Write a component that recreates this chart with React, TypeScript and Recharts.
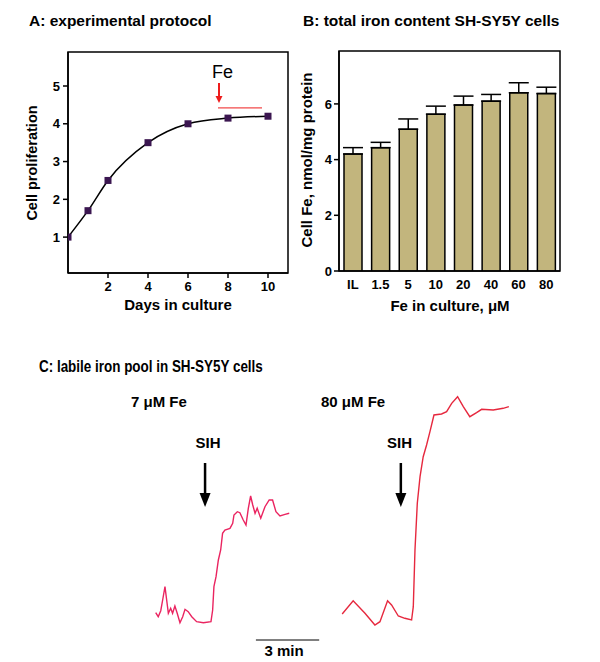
import React from 'react';
import {
  LineChart, Line, BarChart, Bar, XAxis, YAxis, ErrorBar,
  ReferenceArea, ReferenceLine, ReferenceDot,
} from 'recharts';

// ---------- Panel A: experimental protocol ----------
const days = [0, 1, 2, 4, 6, 8, 10];
const proliferation = [1, 1.7, 2.5, 3.5, 4, 4.15, 4.2];
const dayTicks = [2, 4, 6, 8, 10];
const prolifTicks = [1, 2, 3, 4, 5];
const feAddDay = 7.55;
const feArrowTop = 5.08;
const feArrowBase = 4.71;
const feArrowTip = 4.55;
const feExposureStart = 7.5;
const feExposureEnd = 9.7;
const feExposureLevel = 4.42;

// ---------- Panel B: total iron content ----------
const feLevels = ['IL', '1.5', '5', '10', '20', '40', '60', '80'];
const cellFe = [4.2, 4.43, 5.09, 5.63, 5.96, 6.1, 6.4, 6.37];
const cellFeSem = [0.23, 0.19, 0.37, 0.29, 0.32, 0.24, 0.36, 0.23];
const cellFeTicks = [0, 2, 4, 6];

// ---------- Panel C: labile iron pool (time in min, signal a.u.) ----------
const lowFeTime = [7.38, 7.5, 7.62, 7.71, 7.82, 7.9, 7.98, 8.09, 8.18, 8.29, 8.4, 8.53, 8.66, 8.77, 8.92, 9.09, 9.32, 9.64, 10.0, 10.08, 10.14, 10.24, 10.35, 10.46, 10.55, 10.66, 10.9, 11.03, 11.09, 11.25, 11.37, 11.53, 11.66, 11.77, 11.88, 11.98, 12.09, 12.19, 12.36, 12.56, 12.76, 12.92, 13.08, 13.27, 13.51, 13.71];
const lowFeSignal = [4.93, 4.53, 5.13, 6.2, 7.53, 6.2, 4.87, 5.37, 4.87, 5.6, 4.87, 3.93, 4.53, 5.27, 5.03, 4.53, 4.03, 3.93, 4.03, 5.2, 7.53, 8.53, 10.2, 11.2, 12.87, 13.2, 13.37, 13.87, 14.7, 15.03, 14.93, 14.2, 13.7, 15.37, 16.6, 15.7, 14.87, 15.37, 14.37, 15.53, 16.2, 16.2, 15.03, 14.6, 14.77, 14.87];
const highFeTime = [16.22, 16.74, 17.3, 17.77, 18.01, 18.37, 18.56, 18.88, 19.19, 19.51, 19.59, 19.67, 19.78, 19.91, 20.06, 20.22, 20.38, 20.57, 20.93, 21.17, 21.41, 21.69, 21.96, 22.27, 22.59, 22.83, 23.38, 23.85, 24.12];
const highFeSignal = [4.8, 6.13, 4.87, 3.7, 4.03, 6.13, 5.7, 4.6, 4.37, 4.2, 5.53, 11.2, 15.87, 18.53, 20.53, 21.7, 23.03, 24.7, 24.8, 25.03, 25.87, 26.53, 25.53, 24.53, 24.93, 25.27, 25.2, 25.37, 25.53];
const sihTimes = [9.72, 19.0];
const sihArrowTop = 19.9;
const sihArrowBase = 16.9;
const sihArrowTip = 15.5;
const scaleBarStart = 12.13;
const scaleBarMinutes = 3;
const scaleBarLevel = 2.2;

const protocolData = days.map((d, i) => ({ day: d, prolif: proliferation[i] }));
const ironData = feLevels.map((l, i) => ({ level: l, fe: cellFe[i], err: [0, cellFeSem[i]] }));
const lowFeData = lowFeTime.map((t, i) => ({ t, v: lowFeSignal[i] }));
const highFeData = highFeTime.map((t, i) => ({ t, v: highFeSignal[i] }));

const FONT = '"Liberation Sans", Arial, sans-serif';
const tickStyle = { fontSize: 13, fontWeight: 700, fill: '#000', fontFamily: FONT };

const SquareDot = (props: any) => {
  const { cx, cy } = props;
  if (cx == null || cy == null) return null;
  return <rect x={cx - 3.5} y={cy - 3.5} width={7} height={7} fill="#3b1650" />;
};

const makeHead = (w: number, h: number, color: string) => (props: any) => {
  const { cx, cy } = props;
  if (cx == null || cy == null) return <g />;
  return <polygon points={`${cx - w / 2},${cy - h} ${cx + w / 2},${cy - h} ${cx},${cy}`} fill={color} />;
};
const RedHead = makeHead(7, 7, '#ee1c1c');
const BlackHead = makeHead(11, 14, '#000');

type TProps = {
  x: number; y: number; children: React.ReactNode; size?: number; weight?: number;
  anchor?: 'start' | 'middle'; rotate?: boolean; scaleX?: number;
};
const T = ({ x, y, children, size = 15, weight = 700, anchor = 'middle', rotate = false, scaleX = 1 }: TProps) => (
  <div
    style={{
      position: 'absolute', left: x, top: y, fontSize: size, fontWeight: weight, fontFamily: FONT,
      lineHeight: 1, whiteSpace: 'nowrap', color: '#000', transformOrigin: anchor === 'middle' ? '50% 50%' : '0 50%',
      transform: `translate(${anchor === 'middle' ? '-50%' : '0'}, -50%)${rotate ? ' rotate(-90deg)' : ''}${scaleX !== 1 ? ` scaleX(${scaleX})` : ''}`,
    }}
  >
    {children}
  </div>
);

export default function App() {
  return (
    <div style={{ position: 'absolute', left: 0, top: 0, width: 600, height: 662, background: '#fff', overflow: 'hidden', fontFamily: FONT }}>
      {/* Panel A */}
      <div style={{ position: 'absolute', left: 0, top: 0 }}>
        <LineChart width={300} height={330} data={protocolData} margin={{ top: 52, right: 12, bottom: 27, left: 38 }}>
          <XAxis dataKey="day" type="number" domain={[0, 11]} ticks={dayTicks} height={30}
            tick={tickStyle} tickSize={5} tickMargin={4} axisLine={{ stroke: '#000', strokeWidth: 1.5 }}
            tickLine={{ stroke: '#000', strokeWidth: 1.5 }} allowDataOverflow />
          <YAxis type="number" domain={[0.05, 5.9]} ticks={prolifTicks} width={30}
            tick={tickStyle} tickSize={5} tickMargin={3} axisLine={{ stroke: '#000', strokeWidth: 1.5 }}
            tickLine={{ stroke: '#000', strokeWidth: 1.5 }} allowDataOverflow />
          <ReferenceArea y1={0.05} y2={5.9} fill="none" stroke="#000" strokeWidth={1.5} />
          <ReferenceLine segment={[{ x: feExposureStart, y: feExposureLevel }, { x: feExposureEnd, y: feExposureLevel }]}
            stroke="#ee1c1c" strokeWidth={1} />
          <ReferenceLine segment={[{ x: feAddDay, y: feArrowTop }, { x: feAddDay, y: feArrowBase }]}
            stroke="#ee1c1c" strokeWidth={2} />
          <ReferenceDot x={feAddDay} y={feArrowTip} shape={RedHead} />
          <Line type="monotone" dataKey="prolif" stroke="#000" strokeWidth={1.5}
            dot={(p: any) => <SquareDot key={`d${p.index}`} {...p} />} isAnimationActive={false} />
        </LineChart>
      </div>

      {/* Panel B */}
      <div style={{ position: 'absolute', left: 300, top: 0 }}>
        <BarChart width={300} height={330} data={ironData} margin={{ top: 51, right: 40, bottom: 29, left: 14 }}>
          <XAxis dataKey="level" type="category" height={30} interval={0}
            tick={tickStyle} tickSize={6} tickMargin={3} tickLine={false}
            axisLine={{ stroke: '#000', strokeWidth: 1.5 }} />
          <YAxis type="number" domain={[0, 7.9]} ticks={cellFeTicks} width={25}
            tick={tickStyle} tickSize={5} tickMargin={2} axisLine={{ stroke: '#000', strokeWidth: 1.5 }}
            tickLine={{ stroke: '#000', strokeWidth: 1.5 }} allowDataOverflow />
          <ReferenceArea y1={0} y2={7.9} fill="none" stroke="#000" strokeWidth={1.5} />
          <Bar dataKey="fe" barSize={18} fill="#c2b57d" stroke="#000" strokeWidth={1.5} isAnimationActive={false}>
            <ErrorBar dataKey="err" width={10} stroke="#000" strokeWidth={1.5} direction="y" />
          </Bar>
        </BarChart>
      </div>

      {/* Panel C */}
      <div style={{ position: 'absolute', left: 0, top: 380 }}>
        <LineChart width={600} height={282} margin={{ top: 0, right: 0, bottom: 0, left: 0 }}>
          <XAxis dataKey="t" type="number" domain={[0, 28.44]} hide height={0} allowDataOverflow />
          <YAxis type="number" domain={[0, 28.2]} hide width={0} allowDataOverflow />
          {sihTimes.map((t) => (
            <ReferenceLine key={`s${t}`} segment={[{ x: t, y: sihArrowTop }, { x: t, y: sihArrowBase }]}
              stroke="#000" strokeWidth={2.5} />
          ))}
          {sihTimes.map((t) => (
            <ReferenceDot key={`h${t}`} x={t} y={sihArrowTip} shape={BlackHead} />
          ))}
          <ReferenceLine segment={[{ x: scaleBarStart, y: scaleBarLevel }, { x: scaleBarStart + scaleBarMinutes, y: scaleBarLevel }]}
            stroke="#000" strokeWidth={1} />
          <Line data={lowFeData} dataKey="v" type="linear" stroke="#ea2460" strokeWidth={1.4} dot={false} isAnimationActive={false} />
          <Line data={highFeData} dataKey="v" type="linear" stroke="#e6283e" strokeWidth={1.4} dot={false} isAnimationActive={false} />
        </LineChart>
      </div>

      {/* Text */}
      <T x={29} y={21} anchor="start" size={15.5}>A: experimental protocol</T>
      <T x={303} y={21} anchor="start" size={15.5}>B: total iron content SH-SY5Y cells</T>
      <T x={39} y={367} anchor="start" size={16} scaleX={0.84}>C: labile iron pool in SH-SY5Y cells</T>
      <T x={32} y={162.5} rotate size={14.5}>Cell proliferation</T>
      <T x={178} y={304}>Days in culture</T>
      <T x={306} y={160} rotate>Cell Fe, nmol/mg protein</T>
      <T x={450} y={305}>Fe in culture, μM</T>
      <T x={222.5} y={71.5} size={18} weight={400}>Fe</T>
      <T x={131} y={401} anchor="start">7 μM Fe</T>
      <T x={321} y={401} anchor="start">80 μM Fe</T>
      <T x={208} y={442}>SIH</T>
      <T x={399.5} y={442}>SIH</T>
      <T x={284} y={650}>3 min</T>
    </div>
  );
}
